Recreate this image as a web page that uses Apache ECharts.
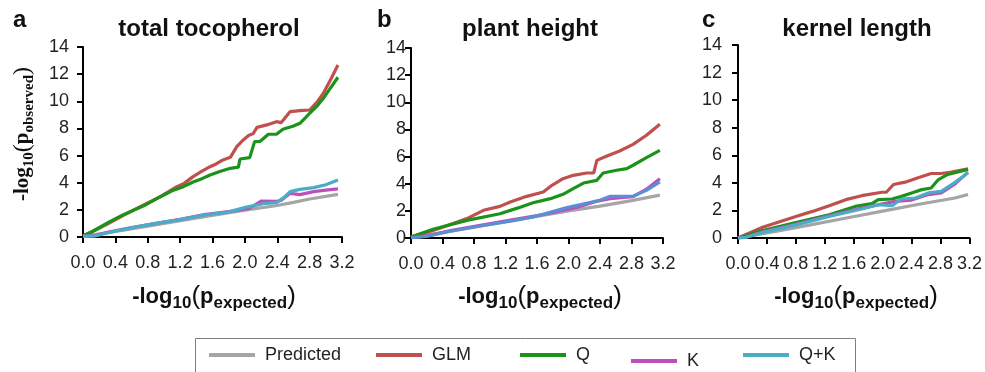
<!DOCTYPE html>
<html>
<head>
<meta charset="utf-8">
<script src="https://cdn.jsdelivr.net/npm/echarts@6/dist/echarts.min.js"></script>
<style>
  html, body { margin: 0; padding: 0; background: #fff; }
  #main { width: 985px; height: 372px; }
</style>
</head>
<body>
<div id="main"></div>
<script>
// panel labels and titles
const panelLetters = ["a", "b", "c"];
const panelTitles = ["total tocopherol", "plant height", "kernel length"];
const seriesNames = ["Predicted", "GLM", "Q", "K", "Q+K"];

// axis ranges
const xMax = 3.2, xStep = 0.4;
const yMax = 14, yStep = 2;

// panel a - total tocopherol, [x, y]
const predA = [[0, 0.05], [0.5, 0.5], [1.0, 1.0], [1.5, 1.5], [2.0, 1.98], [2.4, 2.32], [2.6, 2.55], [2.8, 2.8], [3.15, 3.14]];
const glmA = [[0, 0.1], [0.1, 0.35], [0.3, 0.95], [0.5, 1.6], [0.75, 2.36], [0.95, 2.95], [1.16, 3.71], [1.25, 3.95], [1.36, 4.45], [1.47, 4.85], [1.57, 5.18], [1.65, 5.4], [1.73, 5.68], [1.82, 5.87], [1.9, 6.66], [1.98, 7.15], [2.05, 7.5], [2.1, 7.6], [2.15, 8.08], [2.27, 8.26], [2.39, 8.5], [2.45, 8.43], [2.5, 8.8], [2.56, 9.24], [2.68, 9.31], [2.8, 9.36], [2.9, 10.0], [2.97, 10.6], [3.06, 11.6], [3.15, 12.68]];
const qA = [[0, 0.1], [0.1, 0.35], [0.33, 1.13], [0.5, 1.65], [0.75, 2.3], [0.95, 2.95], [1.1, 3.4], [1.24, 3.71], [1.36, 4.05], [1.47, 4.3], [1.57, 4.57], [1.69, 4.82], [1.82, 5.06], [1.92, 5.15], [1.94, 5.75], [2.06, 5.85], [2.08, 5.9], [2.12, 7.03], [2.19, 7.05], [2.29, 7.57], [2.39, 7.57], [2.47, 7.94], [2.6, 8.18], [2.68, 8.38], [2.75, 8.8], [2.8, 9.12], [2.9, 9.7], [2.97, 10.22], [3.06, 11.0], [3.15, 11.77]];
const kA = [[0, 0.05], [0.15, 0.1], [0.3, 0.35], [0.6, 0.7], [0.9, 1.0], [1.2, 1.3], [1.5, 1.65], [1.7, 1.8], [1.9, 1.95], [2.05, 2.1], [2.2, 2.65], [2.39, 2.62], [2.45, 2.7], [2.56, 3.22], [2.68, 3.12], [2.85, 3.34], [3.0, 3.45], [3.15, 3.54]];
const qkA = [[0, 0.05], [0.15, 0.08], [0.3, 0.3], [0.6, 0.68], [0.9, 1.0], [1.2, 1.28], [1.5, 1.62], [1.8, 1.85], [2.02, 2.2], [2.23, 2.45], [2.39, 2.53], [2.48, 2.9], [2.56, 3.34], [2.68, 3.51], [2.85, 3.64], [3.0, 3.85], [3.15, 4.2]];

// panel b - plant height
const predB = [[0, 0.05], [0.5, 0.5], [1.0, 1.0], [1.5, 1.5], [2.0, 2.0], [2.4, 2.35], [2.8, 2.75], [3.16, 3.16]];
const glmB = [[0, 0.07], [0.28, 0.56], [0.5, 1.0], [0.71, 1.43], [0.92, 2.04], [1.13, 2.33], [1.26, 2.65], [1.47, 3.07], [1.68, 3.39], [1.79, 3.88], [1.93, 4.37], [2.06, 4.62], [2.23, 4.79], [2.32, 4.79], [2.36, 5.72], [2.48, 6.02], [2.65, 6.41], [2.82, 6.9], [2.99, 7.57], [3.16, 8.38]];
const qB = [[0, 0.07], [0.28, 0.65], [0.71, 1.3], [1.13, 1.79], [1.35, 2.2], [1.55, 2.6], [1.77, 2.9], [1.93, 3.22], [2.06, 3.64], [2.19, 4.05], [2.36, 4.25], [2.44, 4.79], [2.61, 4.99], [2.74, 5.11], [2.82, 5.36], [2.99, 5.92], [3.16, 6.46]];
const kB = [[0, 0.02], [0.2, 0.15], [0.5, 0.55], [0.9, 0.95], [1.3, 1.35], [1.7, 1.75], [2.1, 2.25], [2.35, 2.7], [2.53, 2.9], [2.7, 3.0], [2.82, 3.05], [2.99, 3.6], [3.16, 4.37]];
const qkB = [[0, 0.02], [0.2, 0.12], [0.5, 0.5], [0.9, 0.9], [1.3, 1.28], [1.55, 1.55], [1.98, 2.24], [2.4, 2.78], [2.53, 3.07], [2.74, 3.07], [2.82, 3.07], [2.99, 3.51], [3.16, 4.13]];

// panel c - kernel length
const predC = [[0, 0], [0.5, 0.45], [1.0, 0.95], [1.5, 1.45], [2.0, 1.95], [2.5, 2.45], [3.0, 2.9], [3.18, 3.15]];
const glmC = [[0, 0], [0.34, 0.78], [0.8, 1.56], [1.03, 1.93], [1.26, 2.34], [1.49, 2.78], [1.71, 3.07], [1.99, 3.32], [2.05, 3.32], [2.15, 3.88], [2.31, 4.05], [2.49, 4.37], [2.67, 4.68], [2.81, 4.68], [2.95, 4.78], [3.18, 5.02]];
const qC = [[0, 0], [0.34, 0.54], [0.8, 1.12], [1.26, 1.68], [1.62, 2.29], [1.85, 2.49], [1.94, 2.78], [2.13, 2.83], [2.26, 3.02], [2.4, 3.27], [2.54, 3.51], [2.67, 3.63], [2.77, 4.24], [2.9, 4.61], [3.18, 4.98]];
const kC = [[0, 0], [0.11, 0.05], [0.34, 0.45], [0.8, 1.0], [1.26, 1.61], [1.71, 2.17], [2.17, 2.66], [2.4, 2.75], [2.63, 3.15], [2.81, 3.27], [2.99, 3.88], [3.18, 4.78]];
const qkC = [[0, 0], [0.11, 0.05], [0.34, 0.39], [0.8, 0.95], [1.26, 1.56], [1.71, 2.1], [1.94, 2.41], [2.13, 2.34], [2.26, 2.83], [2.45, 2.9], [2.63, 3.27], [2.81, 3.39], [2.99, 4.0], [3.18, 4.73]];

const panelData = [
  [predA, glmA, qA, kA, qkA],
  [predB, glmB, qB, kB, qkB],
  [predC, glmC, qC, kC, qkC]
];

const colors = ["#a5a5a5", "#c0504d", "#1b931b", "#bd4fbd", "#4bacc6"];
// Q+K looks bluer in panel b
const panelColors = [colors, ["#a5a5a5", "#c0504d", "#1b931b", "#bd4fbd", "#5b8fd3"], colors];

const grids = [
  { left: 83, top: 47, width: 259, height: 190 },
  { left: 411, top: 48, width: 252, height: 190 },
  { left: 738, top: 45, width: 234, height: 193 }
];
const yLabelMargin = [14, 5, 16];
const xTitleCenter = [214, 540, 856];
const titleCenter = [209, 530, 857];
const letterLeft = [13, 377, 702];

const textColor = "#231f20";
const axisLine = { show: true, lineStyle: { color: "#000", width: 2 } };
const axisTick = { show: true, inside: false, length: 6, lineStyle: { color: "#000", width: 2 } };

let xAxes = [], yAxes = [], series = [], graphics = [];

grids.forEach((g, i) => {
  xAxes.push({
    type: "value", gridIndex: i, min: 0, max: xMax, interval: xStep,
    axisLine: axisLine, axisTick: axisTick, splitLine: { show: false },
    axisLabel: {
      margin: 17, fontSize: 18, color: textColor, fontFamily: "Liberation Sans",
      formatter: v => v.toFixed(1)
    }
  });
  yAxes.push({
    type: "value", gridIndex: i, min: 0, max: yMax, interval: yStep,
    axisLine: axisLine, axisTick: axisTick, splitLine: { show: false },
    axisLabel: { margin: yLabelMargin[i], fontSize: 18, color: textColor, fontFamily: "Liberation Sans" }
  });
  panelData[i].forEach((d, k) => {
    series.push({
      type: "line", name: seriesNames[k], xAxisIndex: i, yAxisIndex: i,
      data: d, showSymbol: false, symbol: "none", smooth: false,
      lineStyle: { color: panelColors[i][k], width: 3.2 },
      itemStyle: { color: panelColors[i][k] },
      emphasis: { disabled: true }, silent: true, z: 2 + k
    });
  });

  graphics.push({
    type: "text", left: letterLeft[i], top: 8,
    style: { text: panelLetters[i], font: "bold 24px 'Liberation Sans'", fill: "#111" }
  });
  graphics.push({
    type: "text", x: titleCenter[i], y: 29,
    style: {
      text: panelTitles[i], font: "bold 24px 'Liberation Sans'", fill: "#111",
      align: "center", verticalAlign: "middle"
    }
  });
  graphics.push({
    type: "text", x: xTitleCenter[i], y: 297,
    style: {
      text: "{m|-log}{s|10}{b|(}{m|p}{s|expected}{b|)}",
      align: "center", verticalAlign: "middle", fill: "#111",
      rich: {
        m: { fontSize: 22, fontWeight: "bold", fontFamily: "Liberation Sans", lineHeight: 30, verticalAlign: "middle", fill: "#111" },
        s: { fontSize: 17, fontWeight: "bold", fontFamily: "Liberation Sans", lineHeight: 30, verticalAlign: "bottom", fill: "#111" },
        b: { fontSize: 26, fontFamily: "Liberation Sans", lineHeight: 30, verticalAlign: "middle", fill: "#111" }
      }
    }
  });
});

// y axis title (panel a only)
graphics.push({
  type: "text", x: 23, y: 134, rotation: Math.PI / 2,
  style: {
    text: "{m|-log}{s|10}{b|(}{m|p}{s|observed}{b|)}",
    align: "center", verticalAlign: "middle", fill: "#111",
    rich: {
      m: { fontSize: 21, fontWeight: "bold", fontFamily: "Liberation Serif", lineHeight: 28, verticalAlign: "middle", fill: "#111" },
      s: { fontSize: 15, fontWeight: "bold", fontFamily: "Liberation Serif", lineHeight: 28, verticalAlign: "bottom", fill: "#111" },
      b: { fontSize: 24, fontFamily: "Liberation Serif", lineHeight: 28, verticalAlign: "middle", fill: "#111" }
    }
  }
});

// legend frame
graphics.push({
  type: "rect", shape: { x: 195.5, y: 338.5, width: 660, height: 50 },
  style: { fill: "none", stroke: "#7f7f7f", lineWidth: 1 }, z: -1
});

const legendLeft = [209, 376, 520, 631, 743];
const legendTop = [346, 346, 346, 352, 346];
const legends = seriesNames.map((n, k) => ({
  data: [n], left: legendLeft[k], top: legendTop[k], padding: 0,
  icon: "rect", itemWidth: 46, itemHeight: 4,
  selectedMode: false,
  textStyle: { fontSize: 18, color: textColor, fontFamily: "Liberation Sans", padding: [0, 0, 0, 5] }
}));

const chart = echarts.init(document.getElementById("main"));
chart.setOption({
  animation: false,
  backgroundColor: "#fff",
  grid: grids,
  xAxis: xAxes,
  yAxis: yAxes,
  legend: legends,
  series: series,
  graphic: { elements: graphics }
});
</script>
</body>
</html>
